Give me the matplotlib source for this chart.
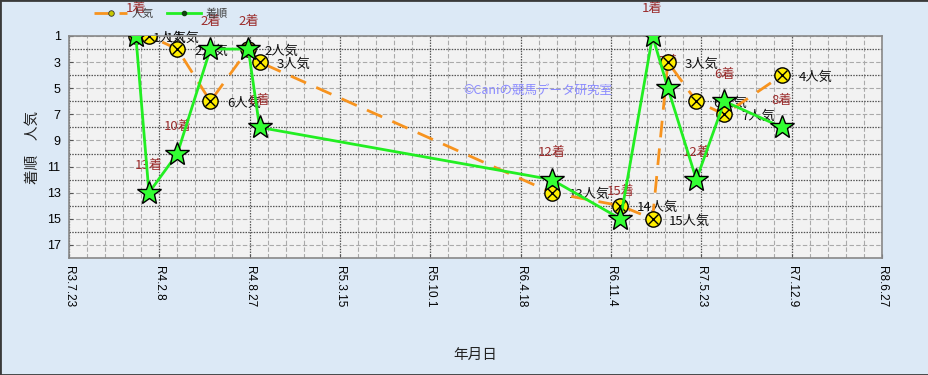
import datetime as dt
import matplotlib
matplotlib.use("Agg")
import matplotlib.pyplot as plt
import matplotlib.dates as mdates
from matplotlib.lines import Line2D
from matplotlib.patches import Rectangle
from matplotlib.ticker import FixedLocator

plt.rcParams['font.family'] = ['Noto Sans CJK JP', 'DejaVu Sans']

# ---- data ----
race_dates = ["2021-12-18", "2022-01-16", "2022-03-20", "2022-06-01", "2022-08-24",
              "2022-09-18", "2024-06-26", "2024-11-25", "2025-02-04", "2025-03-10",
              "2025-05-12", "2025-07-13", "2025-11-18"]
finish = [1, 13, 10, 2, 2, 8, 12, 15, 1, 5, 12, 6, 8]
popularity = [1, 1, 2, 6, 2, 3, 13, 14, 15, 3, 6, 7, 4]
tick_dates = ["2021-07-23", "2022-02-08", "2022-08-27", "2023-03-15", "2023-10-01",
              "2024-04-18", "2024-11-04", "2025-05-23", "2025-12-09", "2026-06-27"]
tick_labels = ["R3.7.23", "R4.2.8", "R4.8.27", "R5.3.15", "R5.10.1",
               "R6.4.18", "R6.11.4", "R7.5.23", "R7.12.9", "R8.6.27"]
y_ticks = [1, 3, 5, 7, 9, 11, 13, 15, 17]

to_date = lambda s: dt.datetime.strptime(s, "%Y-%m-%d")
x = [to_date(s) for s in race_dates]
xt = [to_date(s) for s in tick_dates]

fig = plt.figure(figsize=(9.29, 3.75), dpi=100)
fig.patch.set_facecolor('#dce9f6')
ax = fig.add_axes([69/929, 1-258/375, (882-69)/929, (258-36)/375])
ax.set_facecolor('#f2f2f2')

# grid
minor_x = []
for i in range(len(xt) - 1):
    for k in range(1, 5):
        minor_x.append(xt[i] + dt.timedelta(days=40*k))
ax.set_xticks(xt)
ax.set_xticklabels(tick_labels, rotation=270, fontfamily='Liberation Sans', fontsize=8.5)
ax.xaxis.set_minor_locator(FixedLocator([mdates.date2num(d) for d in minor_x]))
ax.set_yticks(y_ticks)
ax.set_yticklabels([str(v) for v in y_ticks], fontfamily='Liberation Sans', fontsize=9)
ax.yaxis.set_minor_locator(FixedLocator([2, 4, 6, 8, 10, 12, 14, 16]))
ax.grid(which='major', axis='x', color='#555555', ls=(0, (1.2, 1)), lw=0.9, zorder=0)
ax.grid(which='minor', axis='x', color='#aaaaaa', ls=(0, (4, 2)), lw=0.8, zorder=0)
ax.grid(which='major', axis='y', color='#aaaaaa', ls=(0, (4, 2)), lw=0.8, zorder=0)
ax.grid(which='minor', axis='y', color='#555555', ls=(0, (1.2, 1)), lw=0.9, zorder=0)
ax.set_axisbelow(True)
ax.tick_params(which='both', direction='in', length=3, color='#555555', pad=6)
ax.tick_params(which='minor', length=0)
ax.set_xlim(xt[0], xt[-1])
ax.set_ylim(18, 1)
for sp in ax.spines.values():
    sp.set_color('#888888')
    sp.set_linewidth(1.2)

orange = '#f7931e'
green = '#22ee22'
# popularity series
ax.plot(x, popularity, color=orange, lw=2, dashes=(6, 4), zorder=2)
ax.plot(x, popularity, ls='none', marker='o', ms=11, mfc='#ffee00', mec='black', mew=1, zorder=3)
ax.plot(x, popularity, ls='none', marker='x', ms=7, mec='black', mew=1, zorder=3.1)
# finish series
ax.plot(x, finish, color=green, lw=2, zorder=4)
ax.plot(x, finish, ls='none', marker='*', ms=18, mfc='#33ff33', mec='black', mew=1, zorder=5)

for xi, p in zip(x, popularity):
    ax.annotate(f"{p}人気", (xi, p), xytext=(12, -1.5), textcoords='offset points',
                ha='left', va='center', fontsize=9.5, color='#111111', zorder=1.5,
                annotation_clip=False)
for xi, f in zip(x, finish):
    ax.annotate(f"{f}着", (xi, f), xytext=(0, 19.5), textcoords='offset points',
                ha='center', va='center', fontsize=9.5, color='#9b2d2d', zorder=1.5,
                annotation_clip=False)

ax.text(0.5765, 0.753, "©Caniの競馬データ研究室", transform=ax.transAxes,
        ha='center', va='center', fontsize=9, color='#8a8aff', zorder=1)

ax.set_ylabel("着順　人気", fontsize=10.5, color='#222222')
ax.set_xlabel("年月日", fontsize=10.5, color='#222222')
ax.yaxis.set_label_coords(-0.036, 0.5)
ax.xaxis.set_label_coords(0.5, -0.405)

# legend
h1 = Line2D([], [], color=orange, lw=2, dashes=(6, 3), marker='o', ms=4,
            mfc='#c8c800', mec='#333333', mew=0.6)
h2 = Line2D([], [], color=green, lw=2, marker='o', ms=3, mfc='#114411', mec='#114411')
fig.legend([h1, h2], ["人気", "着順"], loc='center left', bbox_to_anchor=(84/929, 1-14/375),
           ncol=2, frameon=False, fontsize=8, handlelength=3, handletextpad=0.4,
           columnspacing=1.2, labelcolor='#404040')

fig.patches.append(Rectangle((0, 0), 1, 1, transform=fig.transFigure, fill=False,
                             edgecolor='#3a3a3a', lw=2))
fig.savefig("out.png", dpi=100, facecolor=fig.get_facecolor())
